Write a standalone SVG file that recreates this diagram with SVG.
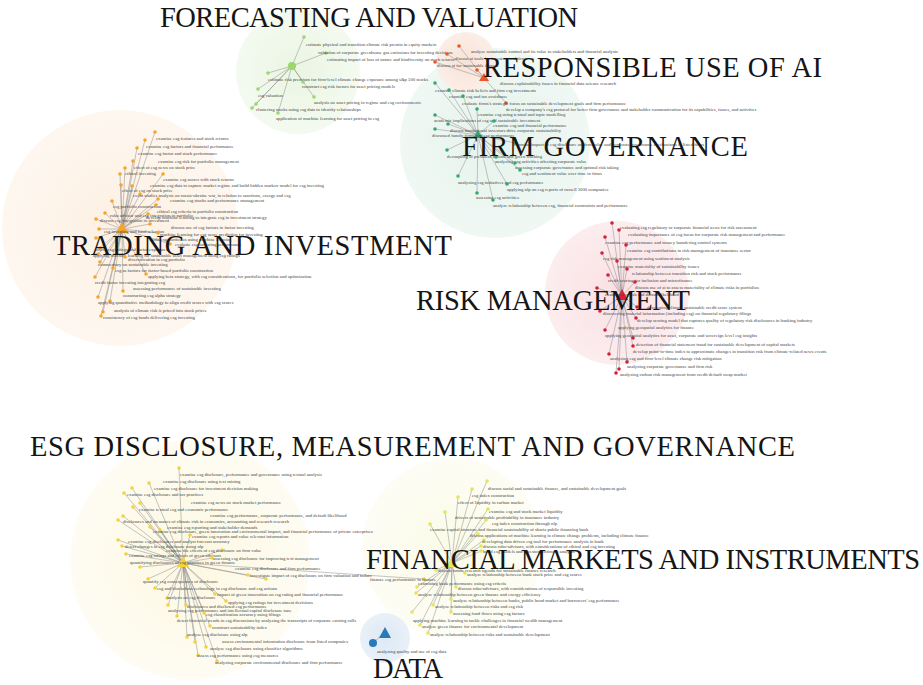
<svg xmlns="http://www.w3.org/2000/svg" width="923" height="685" viewBox="0 0 923 685">
<style>
.l{font-family:"Liberation Serif","DejaVu Serif",serif;font-size:4.7px;fill:#444444}
.T{font-family:"Liberation Serif","DejaVu Serif",serif;font-size:28.5px;fill:#151515}
.c line{stroke:#8c8c8c;stroke-width:.6;stroke-opacity:.85}
.fv{fill:#9ad86c}.ru{fill:#e8562a}.fg{fill:#37a770}.ti{fill:#f5a52a}.rm{fill:#d4203a}.ed{fill:#f3d23c}.fm{fill:#e6e35c}.da{fill:#2a7ab9}
</style>
<defs>
<radialGradient id="gfv"><stop offset="0" stop-color="#eaf5e2"/><stop offset="1" stop-color="#f4faf0"/></radialGradient>
<radialGradient id="gfg"><stop offset="0" stop-color="#e6f3ed"/><stop offset="1" stop-color="#f0f8f4"/></radialGradient>
<radialGradient id="gru"><stop offset="0" stop-color="#f8e2d6"/><stop offset="1" stop-color="#fbeee7"/></radialGradient>
<radialGradient id="gti"><stop offset="0" stop-color="#fdf0e2"/><stop offset="1" stop-color="#fef7f0"/></radialGradient>
<radialGradient id="grm"><stop offset="0" stop-color="#fae0e3"/><stop offset="1" stop-color="#fcedef"/></radialGradient>
<radialGradient id="ged"><stop offset="0" stop-color="#fdf8e2"/><stop offset="1" stop-color="#fefcf3"/></radialGradient>
<radialGradient id="gfm"><stop offset="0" stop-color="#fbfbe8"/><stop offset="1" stop-color="#fdfdf5"/></radialGradient>
<radialGradient id="gda"><stop offset="0" stop-color="#dde9f5"/><stop offset="1" stop-color="#e9f0f8"/></radialGradient>
</defs>
<rect width="923" height="685" fill="#ffffff"/>
<g id="halos">
<circle cx="298" cy="72" r="62" fill="url(#gfv)"/>
<circle cx="495" cy="143" r="95" fill="url(#gfg)"/>
<circle cx="466" cy="62" r="30" fill="url(#gru)"/>
<circle cx="120" cy="228" r="118" fill="url(#gti)"/>
<circle cx="617" cy="293" r="72" fill="url(#grm)"/>
<circle cx="190" cy="560" r="120" fill="url(#ged)"/>
<circle cx="452" cy="548" r="90" fill="url(#gfm)"/>
<circle cx="385" cy="638" r="25" fill="url(#gda)"/>
</g>
<g id="connectors" class="c">
<line x1="292" y1="66" x2="304" y2="37"/><line x1="292" y1="66" x2="326" y2="53"/><line x1="292" y1="66" x2="268" y2="73"/><line x1="292" y1="66" x2="258" y2="89"/><line x1="292" y1="66" x2="303" y2="82"/><line x1="292" y1="66" x2="256" y2="104"/><line x1="292" y1="66" x2="314" y2="97"/><line x1="292" y1="66" x2="252" y2="108"/><line x1="292" y1="66" x2="278" y2="113"/>
<line x1="484" y1="78" x2="459" y2="46"/><line x1="484" y1="78" x2="447" y2="54"/><line x1="484" y1="78" x2="435" y2="62"/><line x1="484" y1="78" x2="477" y2="70"/><line x1="484" y1="78" x2="506" y2="103"/>
<line x1="478" y1="135" x2="435" y2="83"/><line x1="478" y1="135" x2="449" y2="90"/><line x1="478" y1="135" x2="463" y2="96"/><line x1="478" y1="135" x2="477" y2="109"/><line x1="478" y1="135" x2="435" y2="115"/><line x1="478" y1="135" x2="494" y2="121"/><line x1="478" y1="135" x2="448" y2="124"/><line x1="478" y1="135" x2="435" y2="129"/><line x1="478" y1="135" x2="515" y2="143"/><line x1="478" y1="135" x2="447" y2="150"/><line x1="478" y1="135" x2="496" y2="157"/><line x1="478" y1="135" x2="515" y2="163"/><line x1="478" y1="135" x2="520" y2="170"/><line x1="478" y1="135" x2="458" y2="176"/><line x1="478" y1="135" x2="507" y2="184"/><line x1="478" y1="135" x2="477" y2="193"/><line x1="478" y1="135" x2="493" y2="200"/>
<line x1="122" y1="229" x2="155" y2="132"/><line x1="122" y1="229" x2="145" y2="140"/><line x1="122" y1="229" x2="137" y2="148"/><line x1="122" y1="229" x2="133" y2="161"/><line x1="122" y1="229" x2="125" y2="168"/><line x1="122" y1="229" x2="120" y2="174"/><line x1="122" y1="229" x2="163" y2="174"/><line x1="122" y1="229" x2="132" y2="186"/><line x1="122" y1="229" x2="121" y2="185"/><line x1="122" y1="229" x2="140" y2="194"/><line x1="122" y1="229" x2="158" y2="199"/><line x1="122" y1="229" x2="112" y2="201"/><line x1="122" y1="229" x2="156" y2="205"/><line x1="122" y1="229" x2="105" y2="213"/><line x1="122" y1="229" x2="148" y2="214"/><line x1="122" y1="229" x2="96" y2="219"/><line x1="122" y1="229" x2="150" y2="224"/><line x1="122" y1="229" x2="99" y2="229"/><line x1="122" y1="229" x2="158" y2="233"/><line x1="122" y1="229" x2="96" y2="238"/><line x1="122" y1="229" x2="170" y2="244"/><line x1="122" y1="229" x2="100" y2="248"/><line x1="122" y1="229" x2="98" y2="254"/><line x1="122" y1="229" x2="125" y2="257"/><line x1="122" y1="229" x2="100" y2="262"/><line x1="122" y1="229" x2="113" y2="268"/><line x1="122" y1="229" x2="146" y2="274"/><line x1="122" y1="229" x2="95" y2="277"/><line x1="122" y1="229" x2="123" y2="291"/><line x1="122" y1="229" x2="98" y2="297"/><line x1="122" y1="229" x2="110" y2="301"/><line x1="122" y1="229" x2="103" y2="312"/><line x1="122" y1="229" x2="101" y2="316"/>
<line x1="622" y1="296" x2="612" y2="223"/><line x1="622" y1="296" x2="619" y2="230"/><line x1="622" y1="296" x2="605" y2="237"/><line x1="622" y1="296" x2="626" y2="245"/><line x1="622" y1="296" x2="602" y2="253"/><line x1="622" y1="296" x2="617" y2="261"/><line x1="622" y1="296" x2="627" y2="269"/><line x1="622" y1="296" x2="608" y2="275"/><line x1="622" y1="296" x2="635" y2="282"/><line x1="622" y1="296" x2="597" y2="288"/><line x1="622" y1="296" x2="637" y2="307"/><line x1="622" y1="296" x2="600" y2="311"/><line x1="622" y1="296" x2="636" y2="318"/><line x1="622" y1="296" x2="605" y2="330"/><line x1="622" y1="296" x2="633" y2="338"/><line x1="622" y1="296" x2="633" y2="346"/><line x1="622" y1="296" x2="609" y2="354"/><line x1="622" y1="296" x2="627" y2="362"/><line x1="622" y1="296" x2="619" y2="369"/><line x1="622" y1="296" x2="616" y2="373"/>
<line x1="183" y1="563" x2="179" y2="468"/><line x1="183" y1="563" x2="149" y2="483"/><line x1="183" y1="563" x2="132" y2="488"/><line x1="183" y1="563" x2="124" y2="493"/><line x1="183" y1="563" x2="140" y2="503"/><line x1="183" y1="563" x2="133" y2="507"/><line x1="183" y1="563" x2="123" y2="516"/><line x1="183" y1="563" x2="118" y2="520"/><line x1="183" y1="563" x2="150" y2="527"/><line x1="183" y1="563" x2="160" y2="530"/><line x1="183" y1="563" x2="190" y2="535"/><line x1="183" y1="563" x2="118" y2="540"/><line x1="183" y1="563" x2="122" y2="546"/><line x1="183" y1="563" x2="222" y2="550"/><line x1="183" y1="563" x2="126" y2="554"/><line x1="183" y1="563" x2="212" y2="558"/><line x1="183" y1="563" x2="140" y2="567"/><line x1="183" y1="563" x2="424" y2="579"/><line x1="183" y1="563" x2="248" y2="575"/><line x1="183" y1="563" x2="266" y2="579"/><line x1="183" y1="563" x2="148" y2="579"/><line x1="183" y1="563" x2="155" y2="588"/><line x1="183" y1="563" x2="215" y2="594"/><line x1="183" y1="563" x2="167" y2="598"/><line x1="183" y1="563" x2="226" y2="601"/><line x1="183" y1="563" x2="168" y2="605"/><line x1="183" y1="563" x2="186" y2="605"/><line x1="183" y1="563" x2="204" y2="613"/><line x1="183" y1="563" x2="177" y2="616"/><line x1="183" y1="563" x2="210" y2="626"/><line x1="183" y1="563" x2="187" y2="637"/><line x1="183" y1="563" x2="195" y2="642"/><line x1="183" y1="563" x2="206" y2="647"/><line x1="183" y1="563" x2="198" y2="655"/><line x1="183" y1="563" x2="217" y2="661"/>
<line x1="452" y1="563" x2="487" y2="481"/><line x1="452" y1="563" x2="472" y2="489"/><line x1="452" y1="563" x2="458" y2="497"/><line x1="452" y1="563" x2="488" y2="509"/><line x1="452" y1="563" x2="445" y2="512"/><line x1="452" y1="563" x2="486" y2="520"/><line x1="452" y1="563" x2="430" y2="524"/><line x1="452" y1="563" x2="478" y2="534"/><line x1="452" y1="563" x2="484" y2="540"/><line x1="452" y1="563" x2="481" y2="546"/><line x1="452" y1="563" x2="481" y2="551"/><line x1="452" y1="563" x2="436" y2="570"/><line x1="452" y1="563" x2="465" y2="573"/><line x1="452" y1="563" x2="417" y2="587"/><line x1="452" y1="563" x2="456" y2="587"/><line x1="452" y1="563" x2="416" y2="593"/><line x1="452" y1="563" x2="451" y2="599"/><line x1="452" y1="563" x2="433" y2="605"/><line x1="452" y1="563" x2="451" y2="612"/><line x1="452" y1="563" x2="412" y2="612"/><line x1="452" y1="563" x2="420" y2="625"/><line x1="452" y1="563" x2="428" y2="633"/>
<line x1="384" y1="633" x2="373" y2="643"/>
</g>
<g id="forecasting-valuation">
<g id="fv-hub"><circle class="fv" cx="292" cy="66" r="4"/></g>
<g id="fv1"><circle class="fv" cx="304" cy="37" r="1.8"/><text class="l" x="306" y="46">estimate physical and transition climate risk premia in equity markets</text></g>
<g id="fv2"><circle class="fv" cx="326" cy="53" r="1.8"/><text class="l" x="318" y="54">valuation of corporate greenhouse gas emissions for investing decisions</text></g>
<g id="fv3"><circle class="fv" cx="268" cy="73" r="1.8"/><text class="l" x="327" y="61">estimating impact of loss of nature and biodiversity on stock returns</text></g>
<g id="fv4"><circle class="fv" cx="258" cy="89" r="1.8"/><text class="l" x="268" y="81">estimate risk premium for firm-level climate change exposure among s&amp;p 500 stocks</text></g>
<g id="fv5"><circle class="fv" cx="303" cy="82" r="1.8"/><text class="l" x="302" y="88">construct esg risk factors for asset pricing models</text></g>
<g id="fv6"><circle class="fv" cx="256" cy="104" r="1.8"/><text class="l" x="258" y="97">esg valuation</text></g>
<g id="fv7"><circle class="fv" cx="314" cy="97" r="1.8"/><text class="l" x="314" y="104">analysis on asset pricing in regime and esg environments</text></g>
<g id="fv8"><circle class="fv" cx="252" cy="108" r="1.8"/><text class="l" x="256" y="111">clustering stocks using esg data to identify relationships</text></g>
<g id="fv9"><circle class="fv" cx="278" cy="113" r="1.8"/><text class="l" x="276" y="120">application of machine learning for asset pricing in esg</text></g>
</g>
<g id="responsible-ai">
<g id="ru-hub"><polygon class="ru" points="484,73 489,81 479,81"/></g>
<g id="ru1"><circle class="ru" cx="459" cy="46" r="1.8"/><text class="l" x="471" y="53">analyze sustainable control and its value to stakeholders and financial analysts</text></g>
<g id="ru2"><circle class="ru" cx="447" cy="54" r="1.8"/><text class="l" x="455" y="60">discuss ai tools for investors and firms</text></g>
<g id="ru3"><circle class="ru" cx="435" cy="62" r="1.8"/><text class="l" x="437" y="67">discuss ai for sustainable finance</text></g>
<g id="ru4"><circle class="ru" cx="477" cy="70" r="1.8"/><text class="l" x="500" y="85">discuss explainability issues in financial data science research</text></g>
<g id="ru5"><circle class="ru" cx="506" cy="103" r="1.8"/><text class="l" x="506" y="111">develop a company's esg protocol for better firm governance and stakeholder communication for its capabilities, issues, and activities</text></g>
</g>
<g id="firm-governance">
<g id="fg-hub"><polygon class="fg" points="478,130 483,138 473,138"/></g>
<g id="fg1"><circle class="fg" cx="435" cy="83" r="1.8"/><text class="l" x="435" y="92">examine climate risk beliefs and firm esg investments</text></g>
<g id="fg2"><circle class="fg" cx="449" cy="90" r="1.8"/><text class="l" x="449" y="98">examine esg and tax avoidance</text></g>
<g id="fg3"><circle class="fg" cx="463" cy="96" r="1.8"/><text class="l" x="462" y="105">evaluate firms's strategic focus on sustainable development goals and firm performance</text></g>
<g id="fg4"><circle class="fg" cx="477" cy="109" r="1.8"/><text class="l" x="478" y="116">examine esg using textual and topic modelling</text></g>
<g id="fg5"><circle class="fg" cx="435" cy="115" r="1.8"/><text class="l" x="434" y="122">academic implications of esg and sustainable investment</text></g>
<g id="fg6"><circle class="fg" cx="494" cy="121" r="1.8"/><text class="l" x="493" y="127">examine esg and financial performance</text></g>
<g id="fg7"><circle class="fg" cx="448" cy="124" r="1.8"/><text class="l" x="450" y="132">discuss institutional investors drive corporate sustainability</text></g>
<g id="fg8"><circle class="fg" cx="435" cy="129" r="1.8"/><text class="l" x="432" y="137">discussed family firms and esg performance</text></g>
<g id="fg9"><circle class="fg" cx="515" cy="143" r="1.8"/><text class="l" x="514" y="146">examine impact of esg disclosure on firm value and corporate governance mechanisms in listed firms</text></g>
<g id="fg10"><circle class="fg" cx="447" cy="150" r="1.8"/><text class="l" x="447" y="158">decoupling of president actions and green washing</text></g>
<g id="fg11"><circle class="fg" cx="496" cy="157" r="1.8"/><text class="l" x="495" y="163">analyzing esg activities affecting corporate value</text></g>
<g id="fg12"><circle class="fg" cx="515" cy="163" r="1.8"/><text class="l" x="515" y="169">assessing corporate governance and optimal risk taking</text></g>
<g id="fg13"><circle class="fg" cx="520" cy="170" r="1.8"/><text class="l" x="522" y="175">esg and sentiment value over time in firms</text></g>
<g id="fg14"><circle class="fg" cx="458" cy="176" r="1.8"/><text class="l" x="458" y="184">analyzing esg initiatives and esg performance</text></g>
<g id="fg15"><circle class="fg" cx="507" cy="184" r="1.8"/><text class="l" x="507" y="191">applying nlp on esg reports of russell 3000 companies</text></g>
<g id="fg16"><circle class="fg" cx="477" cy="193" r="1.8"/><text class="l" x="476" y="199">assessing esg activities</text></g>
<g id="fg17"><circle class="fg" cx="493" cy="200" r="1.8"/><text class="l" x="493" y="207">analyze relationship between esg, financial constraints and performance</text></g>
</g>
<g id="trading-investment">
<g id="ti-hub"><polygon class="ti" points="122,222 128,233 116,233"/></g>
<g id="ti1"><circle class="ti" cx="155" cy="132" r="1.8"/><text class="l" x="156" y="140">examine esg features and stock returns</text></g>
<g id="ti2"><circle class="ti" cx="145" cy="140" r="1.8"/><text class="l" x="146" y="148">examine esg factors and financial performance</text></g>
<g id="ti3"><circle class="ti" cx="137" cy="148" r="1.8"/><text class="l" x="138" y="155">examine esg factor and stock performance</text></g>
<g id="ti4"><circle class="ti" cx="133" cy="161" r="1.8"/><text class="l" x="158" y="163">examine esg risk for portfolio management</text></g>
<g id="ti5"><circle class="ti" cx="125" cy="168" r="1.8"/><text class="l" x="134" y="169">effect of esg news on stock price</text></g>
<g id="ti6"><circle class="ti" cx="120" cy="174" r="1.8"/><text class="l" x="125" y="175">ethical investing</text></g>
<g id="ti7"><circle class="ti" cx="163" cy="174" r="1.8"/><text class="l" x="163" y="181">examine esg scores with stock returns</text></g>
<g id="ti8"><circle class="ti" cx="132" cy="186" r="1.8"/><text class="l" x="150" y="187">examine esg data to capture market regime and build hidden markov model for esg investing</text></g>
<g id="ti9"><circle class="ti" cx="121" cy="185" r="1.8"/><text class="l" x="122" y="192">effect of esg on stock price</text></g>
<g id="ti10"><circle class="ti" cx="140" cy="194" r="1.8"/><text class="l" x="133" y="197">event studies analysis on russia-ukraine war, in relation to sanctions, energy and esg</text></g>
<g id="ti11"><circle class="ti" cx="158" cy="199" r="1.8"/><text class="l" x="170" y="202">examine esg stocks and performance management</text></g>
<g id="ti12"><circle class="ti" cx="112" cy="201" r="1.8"/><text class="l" x="113" y="208">esg portfolio construction</text></g>
<g id="ti13"><circle class="ti" cx="156" cy="205" r="1.8"/><text class="l" x="157" y="213">ethical esg criteria in portfolio construction</text></g>
<g id="ti14"><circle class="ti" cx="105" cy="213" r="1.8"/><text class="l" x="110" y="217">robo advisor and esg integration in portfolio</text></g>
<g id="ti15"><circle class="ti" cx="148" cy="214" r="1.8"/><text class="l" x="146" y="219">develop machine learning to integrate esg in investment strategy</text></g>
<g id="ti16"><circle class="ti" cx="96" cy="219" r="1.8"/><text class="l" x="100" y="222">discuss esg integration in investment</text></g>
<g id="ti17"><circle class="ti" cx="150" cy="224" r="1.8"/><text class="l" x="171" y="229">discuss use of esg factors in factor investing</text></g>
<g id="ti18"><circle class="ti" cx="99" cy="229" r="1.8"/><text class="l" x="104" y="233">esg investing and fund selection</text></g>
<g id="ti19"><circle class="ti" cx="158" cy="233" r="1.8"/><text class="l" x="160" y="236">machine learning for esg score prediction for investing</text></g>
<g id="ti20"><circle class="ti" cx="96" cy="238" r="1.8"/><text class="l" x="150" y="241">build esg portfolios using machine learning</text></g>
<g id="ti21"><circle class="ti" cx="170" cy="244" r="1.8"/><text class="l" x="175" y="246">evaluate esg investing performance</text></g>
<g id="ti22"><circle class="ti" cx="100" cy="248" r="1.8"/><text class="l" x="95" y="251">assess esg ratings and factor exposures</text></g>
<g id="ti23"><circle class="ti" cx="98" cy="254" r="1.8"/><text class="l" x="93" y="257">applying machine learning for sustainable asset management using esg ratings</text></g>
<g id="ti24"><circle class="ti" cx="125" cy="257" r="1.8"/><text class="l" x="128" y="261">diversification in esg portfolio</text></g>
<g id="ti25"><circle class="ti" cx="100" cy="262" r="1.8"/><text class="l" x="98" y="266">commentary on sustainable investing</text></g>
<g id="ti26"><circle class="ti" cx="113" cy="268" r="1.8"/><text class="l" x="115" y="272">esg as factors for factor-based portfolio construction</text></g>
<g id="ti27"><circle class="ti" cx="146" cy="274" r="1.8"/><text class="l" x="148" y="278">applying beta strategy, with esg considerations, for portfolio selection and optimization</text></g>
<g id="ti28"><circle class="ti" cx="95" cy="277" r="1.8"/><text class="l" x="95" y="284">credit factor investing integrating esg</text></g>
<g id="ti29"><circle class="ti" cx="123" cy="291" r="1.8"/><text class="l" x="133" y="290">assessing performance of sustainable investing</text></g>
<g id="ti30"><circle class="ti" cx="98" cy="297" r="1.8"/><text class="l" x="123" y="297">constructing esg alpha strategy</text></g>
<g id="ti31"><circle class="ti" cx="110" cy="301" r="1.8"/><text class="l" x="98" y="304">applying quantitative methodology to align credit scores with esg scores</text></g>
<g id="ti32"><circle class="ti" cx="103" cy="312" r="1.8"/><text class="l" x="114" y="312">analysis of climate risk is priced into stock prices</text></g>
<g id="ti33"><circle class="ti" cx="101" cy="316" r="1.8"/><text class="l" x="103" y="319">consistency of esg funds delivering esg investing</text></g>
</g>
<g id="risk-management">
<g id="rm-hub"><polygon class="rm" points="622,289 628,300 616,300"/></g>
<g id="rm1"><circle class="rm" cx="612" cy="223" r="1.8"/><text class="l" x="620" y="229">evaluating esg regulatory or corporate financial news for risk assessment</text></g>
<g id="rm2"><circle class="rm" cx="619" cy="230" r="1.8"/><text class="l" x="628" y="236">evaluating importance of esg focus for corporate risk management and performance</text></g>
<g id="rm3"><circle class="rm" cx="605" cy="237" r="1.8"/><text class="l" x="605" y="244">examine esg performance and money laundering control systems</text></g>
<g id="rm4"><circle class="rm" cx="626" cy="245" r="1.8"/><text class="l" x="627" y="252">examine esg contributions in risk management of insurance sector</text></g>
<g id="rm5"><circle class="rm" cx="602" cy="253" r="1.8"/><text class="l" x="603" y="260">esg risk management using sentiment analysis</text></g>
<g id="rm6"><circle class="rm" cx="617" cy="261" r="1.8"/><text class="l" x="618" y="268">examine materiality of sustainability issues</text></g>
<g id="rm7"><circle class="rm" cx="627" cy="269" r="1.8"/><text class="l" x="632" y="275">relationship between transition risk and stock performance</text></g>
<g id="rm8"><circle class="rm" cx="608" cy="275" r="1.8"/><text class="l" x="608" y="282">credit scoring for inclusion and microfinance</text></g>
<g id="rm9"><circle class="rm" cx="635" cy="282" r="1.8"/><text class="l" x="635" y="289">discuss use of ai to assess materiality of climate risks in portfolios</text></g>
<g id="rm10"><circle class="rm" cx="597" cy="288" r="1.8"/><text class="l" x="605" y="296">examine esg risk and default likelihood</text></g>
<g id="rm11"><circle class="rm" cx="637" cy="307" r="1.8"/><text class="l" x="647" y="309">developing climate sustainable credit score system</text></g>
<g id="rm12"><circle class="rm" cx="600" cy="311" r="1.8"/><text class="l" x="603" y="315">discovering material information (including esg) on financial regulatory filings</text></g>
<g id="rm13"><circle class="rm" cx="636" cy="318" r="1.8"/><text class="l" x="637" y="322">develop scoring model that captures quality of regulatory risk disclosures in banking industry</text></g>
<g id="rm14"><circle class="rm" cx="605" cy="330" r="1.8"/><text class="l" x="618" y="329">applying geospatial analytics for finance</text></g>
<g id="rm15"><circle class="rm" cx="633" cy="338" r="1.8"/><text class="l" x="605" y="337">applying geospatial analytics for asset, corporate and sovereign level esg insights</text></g>
<g id="rm16"><circle class="rm" cx="633" cy="346" r="1.8"/><text class="l" x="636" y="346">detection of financial statement fraud for sustainable development of capital markets</text></g>
<g id="rm17"><circle class="rm" cx="609" cy="354" r="1.8"/><text class="l" x="633" y="353">develop point-in-time index to approximate changes in transition risk from climate-related news events</text></g>
<g id="rm18"><circle class="rm" cx="627" cy="362" r="1.8"/><text class="l" x="610" y="360">analyzing esg and firm-level climate change risk mitigation</text></g>
<g id="rm19"><circle class="rm" cx="619" cy="369" r="1.8"/><text class="l" x="627" y="368">analyzing corporate governance and firm risk</text></g>
<g id="rm20"><circle class="rm" cx="616" cy="373" r="1.8"/><text class="l" x="620" y="376">analyzing carbon risk management from credit default swap market</text></g>
</g>
<g id="esg-disclosure">
<g id="ed-hub"><polygon class="ed" points="183,556 189,567 177,567"/></g>
<g id="ed1"><circle class="ed" cx="179" cy="468" r="1.8"/><text class="l" x="180" y="476">examine esg disclosure, performance and governance using textual analysis</text></g>
<g id="ed2"><circle class="ed" cx="149" cy="483" r="1.8"/><text class="l" x="163" y="483">examine esg disclosure using text mining</text></g>
<g id="ed3"><circle class="ed" cx="132" cy="488" r="1.8"/><text class="l" x="154" y="490">examine esg disclosure for investment decision making</text></g>
<g id="ed4"><circle class="ed" cx="124" cy="493" r="1.8"/><text class="l" x="127" y="496">examine esg disclosure and tax practices</text></g>
<g id="ed5"><circle class="ed" cx="140" cy="503" r="1.8"/><text class="l" x="191" y="504">examine esg news on stock market performance</text></g>
<g id="ed6"><circle class="ed" cx="133" cy="507" r="1.8"/><text class="l" x="139" y="511">examine textual esg and economic performance</text></g>
<g id="ed7"><circle class="ed" cx="123" cy="516" r="1.8"/><text class="l" x="210" y="517">examine esg performance, corporate performance, and default likelihood</text></g>
<g id="ed8"><circle class="ed" cx="118" cy="520" r="1.8"/><text class="l" x="123" y="523">disclosures and measures of climate risk in economics, accounting and research research</text></g>
<g id="ed9"><circle class="ed" cx="150" cy="527" r="1.8"/><text class="l" x="167" y="529">examine esg reporting and stakeholder demands</text></g>
<g id="ed10"><circle class="ed" cx="160" cy="530" r="1.8"/><text class="l" x="153" y="533">examine esg disclosure, green innovation and environmental impact, and financial performance of private enterprises</text></g>
<g id="ed11"><circle class="ed" cx="190" cy="535" r="1.8"/><text class="l" x="192" y="538">examine esg reports and value relevant information</text></g>
<g id="ed12"><circle class="ed" cx="118" cy="540" r="1.8"/><text class="l" x="128" y="543">examine esg disclosures and analyst forecast accuracy</text></g>
<g id="ed13"><circle class="ed" cx="122" cy="546" r="1.8"/><text class="l" x="125" y="548">detect changes in esg disclosure using nlp</text></g>
<g id="ed14"><circle class="ed" cx="222" cy="550" r="1.8"/><text class="l" x="166" y="552">examine the effects of esg disclosure on firm value</text></g>
<g id="ed15"><circle class="ed" cx="126" cy="554" r="1.8"/><text class="l" x="129" y="557">examine esg ratings and effects of green advisors</text></g>
<g id="ed16"><circle class="ed" cx="212" cy="558" r="1.8"/><text class="l" x="213" y="560">assessing esg disclosure for improving text management</text></g>
<g id="ed17"><circle class="ed" cx="140" cy="567" r="1.8"/><text class="l" x="130" y="564">quantifying disclosures of esg practices in green finance</text></g>
<g id="ed18"><circle class="ed" cx="424" cy="579" r="1.8"/><text class="l" x="370" y="581">finance esg performance in finance</text></g>
<g id="ed19"><circle class="ed" cx="248" cy="575" r="1.8"/><text class="l" x="235" y="570">examine esg disclosure and firm performance</text></g>
<g id="ed20"><circle class="ed" cx="266" cy="579" r="1.8"/><text class="l" x="250" y="577">investigate impact of esg disclosure on firm valuation and failure</text></g>
<g id="ed21"><circle class="ed" cx="148" cy="579" r="1.8"/><text class="l" x="143" y="583">quantify esg consequences of disclosure</text></g>
<g id="ed22"><circle class="ed" cx="155" cy="588" r="1.8"/><text class="l" x="157" y="590">esg and blockchain technology in esg disclosure and esg actions</text></g>
<g id="ed23"><circle class="ed" cx="215" cy="594" r="1.8"/><text class="l" x="217" y="596">impact of green innovation on esg rating and financial performance</text></g>
<g id="ed24"><circle class="ed" cx="167" cy="598" r="1.8"/><text class="l" x="167" y="599">analysis on esg disclosure</text></g>
<g id="ed25"><circle class="ed" cx="226" cy="601" r="1.8"/><text class="l" x="228" y="604">applying esg ratings for investment decisions</text></g>
<g id="ed26"><circle class="ed" cx="186" cy="605" r="1.8"/><text class="l" x="187" y="608">disclosures and disclosed esg performance</text></g>
<g id="ed27"><circle class="ed" cx="168" cy="605" r="1.8"/><text class="l" x="168" y="612">analyzing esg performance and intellectual capital disclosure tone</text></g>
<g id="ed28"><circle class="ed" cx="204" cy="613" r="1.8"/><text class="l" x="206" y="616">esg classification accuracy using filings</text></g>
<g id="ed29"><circle class="ed" cx="177" cy="616" r="1.8"/><text class="l" x="177" y="622">detect historical trends in esg discussions by analyzing the transcripts of corporate earning calls</text></g>
<g id="ed30"><circle class="ed" cx="210" cy="626" r="1.8"/><text class="l" x="212" y="629">construct sustainability index</text></g>
<g id="ed31"><circle class="ed" cx="187" cy="637" r="1.8"/><text class="l" x="187" y="636">analyze esg disclosure using nlp</text></g>
<g id="ed32"><circle class="ed" cx="195" cy="642" r="1.8"/><text class="l" x="222" y="643">assess environmental information disclosure from listed companies</text></g>
<g id="ed33"><circle class="ed" cx="206" cy="647" r="1.8"/><text class="l" x="210" y="650">analyze esg disclosure using classifier algorithms</text></g>
<g id="ed34"><circle class="ed" cx="198" cy="655" r="1.8"/><text class="l" x="197" y="657">assess esg performance using esg measures</text></g>
<g id="ed35"><circle class="ed" cx="217" cy="661" r="1.8"/><text class="l" x="215" y="664">analyzing corporate environmental disclosure and firm performance</text></g>
</g>
<g id="financial-markets">
<g id="fm-hub"><polygon class="fm" points="452,557 458,567 446,567"/></g>
<g id="fm1"><circle class="fm" cx="487" cy="481" r="1.8"/><text class="l" x="488" y="490">discuss social and sustainable finance, and sustainable development goals</text></g>
<g id="fm2"><circle class="fm" cx="472" cy="489" r="1.8"/><text class="l" x="472" y="497">esg index construction</text></g>
<g id="fm3"><circle class="fm" cx="458" cy="497" r="1.8"/><text class="l" x="458" y="504">effect of liquidity in carbon market</text></g>
<g id="fm4"><circle class="fm" cx="488" cy="509" r="1.8"/><text class="l" x="489" y="513">examine esg and stock market liquidity</text></g>
<g id="fm5"><circle class="fm" cx="445" cy="512" r="1.8"/><text class="l" x="455" y="519">drivers of sustainable profitability in insurance industry</text></g>
<g id="fm6"><circle class="fm" cx="486" cy="520" r="1.8"/><text class="l" x="492" y="525">esg index construction through nlp</text></g>
<g id="fm7"><circle class="fm" cx="430" cy="524" r="1.8"/><text class="l" x="430" y="531">examine capital structure and financial sustainability of sharia public financing bank</text></g>
<g id="fm8"><circle class="fm" cx="478" cy="534" r="1.8"/><text class="l" x="470" y="537">discuss applications of machine learning in climate change problems, including climate finance</text></g>
<g id="fm9"><circle class="fm" cx="484" cy="540" r="1.8"/><text class="l" x="482" y="543">developing data driven esg tool for performance analysis in bank</text></g>
<g id="fm10"><circle class="fm" cx="481" cy="546" r="1.8"/><text class="l" x="483" y="548">discuss robo-advisors, with considerations of ethical and esg investing</text></g>
<g id="fm11"><circle class="fm" cx="481" cy="551" r="1.8"/><text class="l" x="483" y="553">build esg models and investor sentiment analysis</text></g>
<g id="fm12"><circle class="fm" cx="436" cy="570" r="1.8"/><text class="l" x="438" y="572">discuss future research agenda for sustainable finance research</text></g>
<g id="fm13"><circle class="fm" cx="465" cy="573" r="1.8"/><text class="l" x="467" y="576">analyze relationship between bank stock price and esg scores</text></g>
<g id="fm14"><circle class="fm" cx="417" cy="587" r="1.8"/><text class="l" x="418" y="585">examining bank performance using esg criteria</text></g>
<g id="fm15"><circle class="fm" cx="456" cy="587" r="1.8"/><text class="l" x="458" y="590">discuss robo-advisors, with considerations of responsible investing</text></g>
<g id="fm16"><circle class="fm" cx="416" cy="593" r="1.8"/><text class="l" x="418" y="596">analyze relationship between green finance and energy efficiency</text></g>
<g id="fm17"><circle class="fm" cx="451" cy="599" r="1.8"/><text class="l" x="453" y="602">analyze relationship between banks, public bond market and borrowers' esg performance</text></g>
<g id="fm18"><circle class="fm" cx="433" cy="605" r="1.8"/><text class="l" x="435" y="608">analyze relationship between risks and esg risk</text></g>
<g id="fm19"><circle class="fm" cx="451" cy="612" r="1.8"/><text class="l" x="453" y="615">assessing fund flows using esg factors</text></g>
<g id="fm20"><circle class="fm" cx="412" cy="612" r="1.8"/><text class="l" x="413" y="622">applying machine learning to tackle challenges in financial wealth management</text></g>
<g id="fm21"><circle class="fm" cx="420" cy="625" r="1.8"/><text class="l" x="422" y="628">analyze green finance for environmental development</text></g>
<g id="fm22"><circle class="fm" cx="428" cy="633" r="1.8"/><text class="l" x="430" y="636">analyze relationship between risks and sustainable development</text></g>
</g>
<g id="data">
<g id="da-hub"><polygon class="da" points="385,627 391,638 379,638"/></g>
<g id="da1"><circle class="da" cx="373" cy="643" r="4"/><text class="l" x="377" y="653">analyzing quality and use of esg data</text></g>
</g>
<g id="titles">
<text class="T" x="160" y="27" textLength="418">FORECASTING AND VALUATION</text>
<text class="T" x="483" y="77" textLength="339">RESPONSIBLE USE OF AI</text>
<text class="T" x="462" y="156" textLength="286">FIRM GOVERNANCE</text>
<text class="T" x="53" y="255" textLength="399">TRADING AND INVESTMENT</text>
<text class="T" x="416" y="310" textLength="274">RISK MANAGEMENT</text>
<text class="T" x="30" y="456" textLength="765">ESG DISCLOSURE, MEASUREMENT AND GOVERNANCE</text>
<text class="T" x="366" y="569" textLength="554">FINANCIAL MARKETS AND INSTRUMENTS</text>
<text class="T" x="373" y="678" textLength="70">DATA</text>
</g>
</svg>
